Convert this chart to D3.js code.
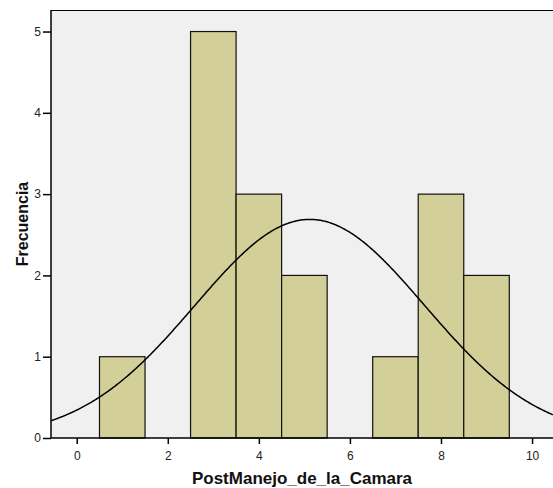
<!DOCTYPE html>
<html><head><meta charset="utf-8">
<script src="https://cdn.jsdelivr.net/npm/d3@7"></script>
<style>body{margin:0;background:#fff}svg{display:block;font-family:Arial,"Liberation Sans",sans-serif}</style>
</head><body><svg id="c" width="553" height="488"></svg>
<script>
const binCenters = [1, 3, 4, 5, 7, 8, 9];
const frequencies = [1, 5, 3, 2, 1, 3, 2];
const xTicks = [0, 2, 4, 6, 8, 10];
const yTicks = [0, 1, 2, 3, 4, 5];
const xTitle = "PostManejo_de_la_Camara";
const yTitle = "Frecuencia";

const svg = d3.select("#c");
const L = 51, R = 553, T = 10, B = 438;
const x = d3.scaleLinear().domain([-0.565, 10.46]).range([L, R]);
const y = d3.scaleLinear().domain([0, 5.265]).range([B, T]);

svg.append("rect").attr("x", L).attr("y", T).attr("width", R - L).attr("height", B - T).attr("fill", "#f0f0f0");

const bw = 1;
svg.append("g").selectAll("rect").data(binCenters).join("rect")
  .attr("x", (d) => x(d - bw / 2))
  .attr("y", (d, i) => y(frequencies[i]))
  .attr("width", x(bw) - x(0))
  .attr("height", (d, i) => y(0) - y(frequencies[i]))
  .attr("fill", "#d3cf99").attr("stroke", "#111").attr("stroke-width", 1.2);

// normal curve from data
const n = d3.sum(frequencies);
const mean = d3.sum(binCenters, (d, i) => d * frequencies[i]) / n;
const sd = Math.sqrt(d3.sum(binCenters, (d, i) => frequencies[i] * (d - mean) ** 2) / (n - 1));
const xs = d3.range(-0.565, 10.47, 0.02);
const line = d3.line().x(d => x(d)).y(d => y(n * bw * Math.exp(-0.5 * ((d - mean) / sd) ** 2) / (sd * Math.sqrt(2 * Math.PI))));
svg.append("path").datum(xs).attr("d", line).attr("fill", "none").attr("stroke", "#000").attr("stroke-width", 1.5);

// frame lines
svg.append("line").attr("x1", L).attr("x2", R).attr("y1", T + 0.5).attr("y2", T + 0.5).attr("stroke", "#000");

const xa = svg.append("g").attr("transform", `translate(0,${B})`)
  .call(d3.axisBottom(x).tickValues(xTicks).tickSize(6).tickSizeOuter(0).tickPadding(7).tickFormat(d3.format("d")));
const ya = svg.append("g").attr("transform", `translate(${L},0)`)
  .call(d3.axisLeft(y).tickValues(yTicks).tickSize(8).tickSizeOuter(0).tickPadding(2).tickFormat(d3.format("d")));
[xa, ya].forEach(a => {
  a.select(".domain").attr("stroke", "#000").attr("stroke-width", 1.5);
  a.selectAll(".tick line").attr("stroke", "#000").attr("stroke-width", 1.5);
  a.selectAll("text").attr("font-size", 12).attr("fill", "#222").attr("font-family", "Arial, 'Liberation Sans', sans-serif");
});
xa.select(".domain").attr("d", `M${L},0H${R}`);
ya.select(".domain").attr("d", `M0,${T}V${B}`);

svg.append("text").attr("x", (L + R) / 2).attr("y", 484).attr("text-anchor", "middle")
  .attr("font-size", 17).attr("font-weight", "bold").attr("fill", "#111").text(xTitle);
svg.append("text").attr("transform", `translate(28,${(T + B) / 2}) rotate(-90)`).attr("text-anchor", "middle")
  .attr("font-size", 16).attr("font-weight", "bold").attr("fill", "#111").text(yTitle);
</script></body></html>
